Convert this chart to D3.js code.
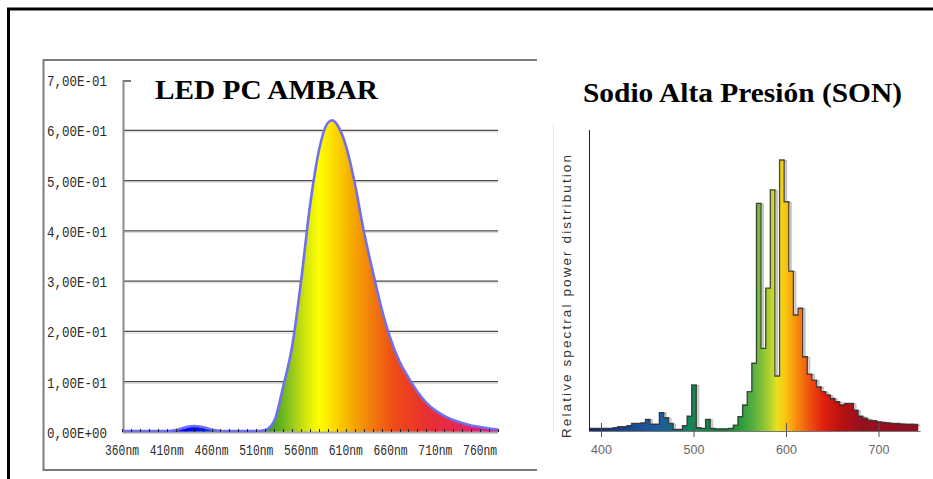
<!DOCTYPE html>
<html>
<head>
<meta charset="utf-8">
<script src="https://cdn.jsdelivr.net/npm/d3@7"></script>
<style>
  body { margin: 0; background: #fff; }
  svg { display: block; }
</style>
</head>
<body>
<svg id="chart" width="933" height="479"></svg>
<script>
// LED PC AMBAR - spectral curve (wavelength nm, relative value)
const ledWl  = [360, 370, 380, 390, 400, 410, 420, 430, 440, 450, 460, 470, 480, 490, 500, 510, 520, 530, 540, 550,
                560, 570, 580, 590, 595, 600, 610, 620, 630, 640, 650, 660, 670, 680, 690, 700, 710, 720, 730, 740,
                750, 760, 770, 780]
const ledVal = [0.002, 0.002, 0.002, 0.002, 0.002, 0.002, 0.004, 0.009, 0.012, 0.010, 0.005, 0.002, 0.002, 0.002, 0.002, 0.002, 0.004, 0.022, 0.090, 0.170,
                0.300, 0.450, 0.560, 0.615, 0.620, 0.612, 0.570, 0.495, 0.400, 0.320, 0.245, 0.185, 0.140, 0.108, 0.080, 0.058, 0.043, 0.032, 0.024, 0.018,
                0.013, 0.010, 0.007, 0.005]
const ledYTicks  = [0, 0.1, 0.2, 0.3, 0.4, 0.5, 0.6, 0.7]
const ledYLabels = ["0,00E+00", "1,00E-01", "2,00E-01", "3,00E-01", "4,00E-01", "5,00E-01", "6,00E-01", "7,00E-01"]
const ledXTicks  = [360, 410, 460, 510, 560, 610, 660, 710, 760]
const ledXLabels = ["360nm", "410nm", "460nm", "510nm", "560nm", "610nm", "660nm", "710nm", "760nm"]

// Sodio Alta Presion (SON) - 5nm bins (bin centre nm, relative power)
const sonWl  = [390, 395, 400, 405, 410, 415, 420, 425, 430, 435, 440, 445, 450, 455, 460, 465, 470, 475, 480, 485,
                490, 495, 500, 505, 510, 515, 520, 525, 530, 535, 540, 545, 550, 555, 560, 565, 570, 575, 580, 585,
                590, 595, 600, 605, 610, 615, 620, 625, 630, 635, 640, 645, 650, 655, 660, 665, 670, 675, 680, 685,
                690, 695, 700, 705, 710, 715, 720, 725, 730, 735, 740]
const sonVal = [0.010, 0.010, 0.010, 0.010, 0.010, 0.012, 0.016, 0.016, 0.020, 0.028, 0.028, 0.030, 0.043, 0.025, 0.025, 0.068, 0.049, 0.028, 0.006, 0.006,
                0.020, 0.055, 0.170, 0.012, 0.010, 0.043, 0.010, 0.008, 0.008, 0.008, 0.010, 0.022, 0.053, 0.096, 0.145, 0.250, 0.840, 0.305, 0.527, 0.890,
                0.203, 1.000, 0.846, 0.590, 0.428, 0.453, 0.274, 0.210, 0.188, 0.163, 0.145, 0.133, 0.120, 0.108, 0.096, 0.102, 0.102, 0.077, 0.055, 0.047,
                0.040, 0.038, 0.034, 0.032, 0.030, 0.028, 0.028, 0.026, 0.025, 0.025, 0.024]
const sonXTicks = [400, 500, 600, 700]

// colour stops (wavelength -> colour) for the two fills
const ledStops = [[360, "#1a1aff"], [430, "#0000ff"], [470, "#0a3cc8"], [500, "#2a7a40"], [525, "#3c9c20"], [545, "#80c020"],
                  [560, "#c2dc10"], [580, "#ffff00"], [600, "#fbd400"], [620, "#f5a400"], [645, "#f07010"], [665, "#ee4a18"],
                  [700, "#e83030"], [740, "#e4285a"], [780, "#d81890"]]
const sonStops = [[387, "#142868"], [430, "#1c4890"], [460, "#1d5a9c"], [482, "#1a6a7a"], [500, "#168a50"], [530, "#1a7a40"],
                  [550, "#2a9a3a"], [565, "#5ab040"], [580, "#a4ce30"], [590, "#e8e020"], [598, "#f8c810"], [610, "#f89010"],
                  [625, "#f05010"], [640, "#e02010"], [660, "#b81010"], [680, "#981020"], [745, "#901020"]]

const svg = d3.select("#chart")
const defs = svg.append("defs")

svg.append("rect").attr("width", 933).attr("height", 479).attr("fill", "#fff")

// outer black frame (only top + left show)
svg.append("path")
  .attr("d", "M8.5,479 V9 H933")
  .attr("fill", "none")
  .attr("stroke", "#000")
  .attr("stroke-width", 3)

// ---------------- LED PANEL ----------------
svg.append("path")
  .attr("d", "M537,60 H43.5 V470 H537")
  .attr("fill", "none")
  .attr("stroke", "#7c7c7c")
  .attr("stroke-width", 2)

const xLed = d3.scaleLinear().domain([360, 780]).range([122, 498])
const yLed = d3.scaleLinear().domain([0, 0.7]).range([432, 80])

// gridlines with a pale shadow line under each
const grid = svg.append("g")
grid.selectAll(".gshadow")
  .data(ledYTicks.filter(d => d > 0 && d < 0.7))
  .enter().append("line")
    .attr("x1", 124).attr("x2", xLed(780))
    .attr("y1", d => yLed(d) + 1.6).attr("y2", d => yLed(d) + 1.6)
    .attr("stroke", "#dcdcdc").attr("stroke-width", 1.2)
grid.selectAll(".gline")
  .data(ledYTicks.filter(d => d > 0 && d < 0.7))
  .enter().append("line")
    .attr("x1", 124).attr("x2", xLed(780))
    .attr("y1", d => yLed(d)).attr("y2", d => yLed(d))
    .attr("stroke", "#4a4a4a").attr("stroke-width", 1.3)
// top stub at 0.7
svg.append("line")
  .attr("x1", 123).attr("x2", 131)
  .attr("y1", yLed(0.7) + 1).attr("y2", yLed(0.7) + 1)
  .attr("stroke", "#777").attr("stroke-width", 2)

// gradient + area
const ledGrad = defs.append("linearGradient")
  .attr("id", "ledGrad")
  .attr("gradientUnits", "userSpaceOnUse")
  .attr("x1", xLed(360)).attr("x2", xLed(780))
  .attr("y1", 0).attr("y2", 0)
ledGrad.selectAll("stop")
  .data(ledStops)
  .enter().append("stop")
    .attr("offset", d => (d[0] - 360) / 420)
    .attr("stop-color", d => d[1])

const ledData = ledWl.map((w, i) => ({wl: w, v: ledVal[i]}))
const ledArea = d3.area()
  .x(d => xLed(d.wl)).y0(yLed(0)).y1(d => yLed(d.v))
  .curve(d3.curveMonotoneX)
const ledLine = d3.line()
  .x(d => xLed(d.wl)).y(d => yLed(d.v))
  .curve(d3.curveMonotoneX)

svg.append("path")
  .datum(ledData)
  .attr("d", ledArea)
  .attr("fill", "url(#ledGrad)")

// axis line + baseline
svg.append("line")
  .attr("x1", 123.5).attr("x2", 123.5)
  .attr("y1", yLed(0.7)).attr("y2", yLed(0) + 1)
  .attr("stroke", "#8a8a8a").attr("stroke-width", 2)
svg.append("line")
  .attr("x1", 123).attr("x2", xLed(780))
  .attr("y1", yLed(0) + 0.5).attr("y2", yLed(0) + 0.5)
  .attr("stroke", "#a8a8a8").attr("stroke-width", 2)

svg.append("path")
  .datum(ledData)
  .attr("d", ledLine)
  .attr("fill", "none")
  .attr("stroke", "#7070ee")
  .attr("stroke-width", 2.6)
  .attr("stroke-linejoin", "round")

// small upward ticks every 10nm
svg.append("g").selectAll("line")
  .data(xLed.ticks(42))
  .enter().append("line")
    .attr("x1", d => Math.round(xLed(d)) + 0.5).attr("x2", d => Math.round(xLed(d)) + 0.5)
    .attr("y1", yLed(0) - 3).attr("y2", yLed(0))
    .attr("stroke", "#222").attr("stroke-width", 1)

// y labels
svg.append("g").selectAll("text")
  .data(ledYTicks)
  .enter().append("text")
    .attr("x", 47)
    .attr("y", d => yLed(d) + 6)
    .attr("textLength", 60)
    .attr("lengthAdjust", "spacingAndGlyphs")
    .style("font-family", "'Liberation Mono', 'DejaVu Sans Mono', monospace")
    .style("font-size", "15.5px")
    .style("fill", "#2a2a2a")
    .text((d, i) => ledYLabels[i])

// x labels
svg.append("g").selectAll("text")
  .data(ledXTicks)
  .enter().append("text")
    .attr("x", d => xLed(d) - 17)
    .attr("y", 454.5)
    .attr("textLength", 34)
    .attr("lengthAdjust", "spacingAndGlyphs")
    .style("font-family", "'Liberation Mono', 'DejaVu Sans Mono', monospace")
    .style("font-size", "15.5px")
    .style("fill", "#2a2a2a")
    .text((d, i) => ledXLabels[i])

svg.append("text")
  .attr("x", 155).attr("y", 99)
  .attr("textLength", 223)
  .attr("lengthAdjust", "spacingAndGlyphs")
  .style("font-family", "'Liberation Serif', 'Times New Roman', serif")
  .style("font-weight", "bold")
  .style("font-size", "27px")
  .style("fill", "#000")
  .text("LED PC AMBAR")

// ---------------- SON PANEL ----------------
svg.append("rect")
  .attr("x", 538).attr("y", 62).attr("width", 395).attr("height", 417)
  .attr("fill", "#fff")

const xSon = d3.scaleLinear().domain([387, 745]).range([589.5, 920.6])
const ySon = d3.scaleLinear().domain([0, 1]).range([431, 160])

const sonGrad = defs.append("linearGradient")
  .attr("id", "sonGrad")
  .attr("gradientUnits", "userSpaceOnUse")
  .attr("x1", xSon(387)).attr("x2", xSon(745))
  .attr("y1", 0).attr("y2", 0)
sonGrad.selectAll("stop")
  .data(sonStops)
  .enter().append("stop")
    .attr("offset", d => (d[0] - 387) / 358)
    .attr("stop-color", d => d[1])

// step outline: left edge of each bin, plus closing right edge
const sonPts = sonWl.map((w, i) => ({wl: w - 2.5, v: sonVal[i]}))
sonPts.push({wl: sonWl[sonWl.length - 1] + 2.5, v: sonVal[sonVal.length - 1]})

const sonArea = d3.area()
  .x(d => xSon(d.wl)).y0(ySon(0)).y1(d => ySon(d.v))
  .curve(d3.curveStepAfter)
const sonLine = d3.line()
  .x(d => xSon(d.wl)).y(d => ySon(d.v))
  .curve(d3.curveStepAfter)

// faint guide line left of the label
svg.append("line")
  .attr("x1", 553.5).attr("x2", 553.5)
  .attr("y1", 125).attr("y2", 432)
  .attr("stroke", "#e6e6e6").attr("stroke-width", 1)

// drop shadow
svg.append("path")
  .datum(sonPts)
  .attr("d", sonLine)
  .attr("transform", "translate(2,1)")
  .attr("fill", "none")
  .attr("stroke", "#c4c4c4")
  .attr("stroke-width", 2)

svg.append("path")
  .datum(sonPts)
  .attr("d", sonArea)
  .attr("fill", "url(#sonGrad)")

svg.append("path")
  .datum(sonPts)
  .attr("d", sonLine)
  .attr("fill", "none")
  .attr("stroke", "#2c2c2c")
  .attr("stroke-opacity", 0.85)
  .attr("stroke-width", 1.3)

// axes
svg.append("line")
  .attr("x1", 589.5).attr("x2", 589.5)
  .attr("y1", 130).attr("y2", ySon(0))
  .attr("stroke", "#222").attr("stroke-width", 1)
svg.append("line")
  .attr("x1", 589).attr("x2", xSon(745))
  .attr("y1", ySon(0) + 0.5).attr("y2", ySon(0) + 0.5)
  .attr("stroke", "#777").attr("stroke-width", 1)

svg.append("g").selectAll("line")
  .data(sonXTicks)
  .enter().append("line")
    .attr("x1", d => xSon(d)).attr("x2", d => xSon(d))
    .attr("y1", ySon(0) - 8).attr("y2", ySon(0) + 6)
    .attr("stroke", "#555").attr("stroke-width", 1)

svg.append("g").selectAll("text")
  .data(sonXTicks)
  .enter().append("text")
    .attr("x", d => xSon(d))
    .attr("y", 453.5)
    .attr("text-anchor", "middle")
    .style("font-family", "'Liberation Sans', Arial, sans-serif")
    .style("font-size", "12.5px")
    .style("fill", "#666")
    .text(d => d)

svg.append("text")
  .attr("transform", "translate(571,296.5) rotate(-90)")
  .attr("text-anchor", "middle")
  .attr("textLength", 283)
  .attr("lengthAdjust", "spacing")
  .style("font-family", "'Liberation Sans', Arial, sans-serif")
  .style("font-size", "13.5px")
  .style("fill", "#333")
  .text("Relative spectral power distribution")

svg.append("text")
  .attr("x", 583).attr("y", 102)
  .attr("textLength", 319)
  .attr("lengthAdjust", "spacingAndGlyphs")
  .style("font-family", "'Liberation Serif', 'Times New Roman', serif")
  .style("font-weight", "bold")
  .style("font-size", "27.5px")
  .style("fill", "#000")
  .text("Sodio Alta Presión (SON)")
</script>
</body>
</html>
